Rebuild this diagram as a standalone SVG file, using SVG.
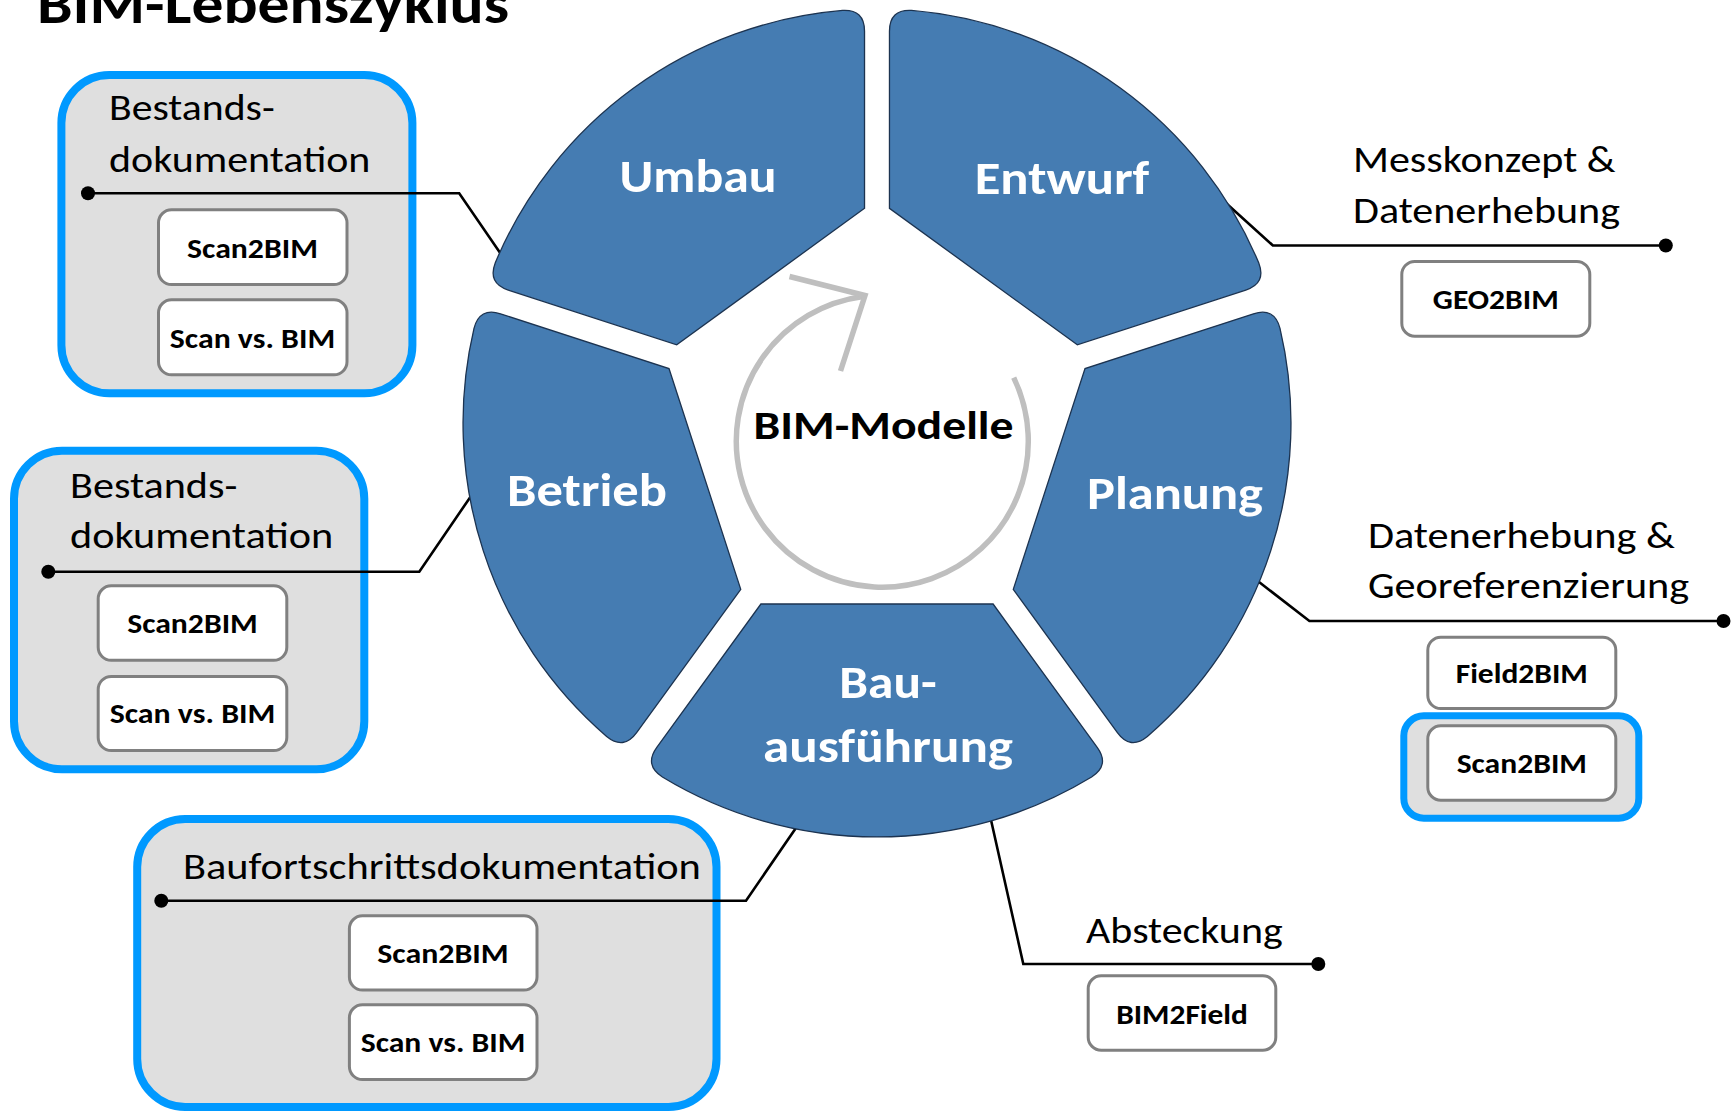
<svg xmlns="http://www.w3.org/2000/svg" width="1734" height="1112" viewBox="0 0 1734 1112">
<defs>
<style>
.t{font-family:Carlito,Calibri,Lato,'Open Sans',sans-serif}
.title{font-weight:bold;font-size:57px;fill:#000}
.lbl{font-size:37px;fill:#000}
.tl{font-weight:bold;font-size:28px;fill:#000;text-anchor:middle}
.sl{font-weight:bold;font-size:47px;fill:#fff;text-anchor:middle}
.core{font-weight:bold;font-size:41px;fill:#000;text-anchor:middle}
.box{fill:#dfdfdf;stroke:#0099ff;stroke-width:8}
.hl{fill:#dfdfdf;stroke:#0099ff;stroke-width:7}
.tool{fill:#fff;stroke:#808080;stroke-width:3}
.seg{fill:#457cb2;stroke:#1c3350;stroke-width:1.3}
.conn{fill:none;stroke:#000;stroke-width:2.6;stroke-linejoin:miter}
.dot{fill:#000}
.cyc{fill:none;stroke:#bfbfbf;stroke-width:5.5}
</style>
<path id="segShape" d="M -116.1,181 L 116.1,181 L 220.2,324.3 Q 233.1,342.1 214.6,354 A 414 414 0 0 1 -214.6,354 Q -233.1,342.1 -220.2,324.3 Z"/>
</defs>
<rect width="1734" height="1112" fill="#fff"/>
<text id="title" class="t title" x="37" y="23" textLength="472" lengthAdjust="spacingAndGlyphs">BIM-Lebenszyklus</text>

<g id="callout-bestand-umbau">
<rect class="box" x="61.4" y="75" width="351" height="318.3" rx="48"/>
<text class="t lbl" x="109" y="120" textLength="165.7" lengthAdjust="spacingAndGlyphs">Bestands-</text>
<text class="t lbl" x="109" y="171.7" textLength="261.4" lengthAdjust="spacingAndGlyphs">dokumentation</text>
<g id="umbau-scan2bim"><rect class="tool" x="158.5" y="209.8" width="188.5" height="74.7" rx="13"/>
<text class="t tl" x="252.5" y="258.3" textLength="130.8" lengthAdjust="spacingAndGlyphs">Scan2BIM</text></g>
<g id="umbau-scanvsbim"><rect class="tool" x="158.5" y="299.8" width="188.5" height="75" rx="13"/>
<text class="t tl" x="252.5" y="347.7" textLength="165.3" lengthAdjust="spacingAndGlyphs">Scan vs. BIM</text></g>
</g>

<g id="callout-bestand-betrieb">
<rect class="box" x="14" y="450.7" width="350.3" height="318.6" rx="48"/>
<text class="t lbl" x="70" y="498.3" textLength="167.3" lengthAdjust="spacingAndGlyphs">Bestands-</text>
<text class="t lbl" x="70" y="548.3" textLength="263.3" lengthAdjust="spacingAndGlyphs">dokumentation</text>
<g id="betrieb-scan2bim"><rect class="tool" x="98.2" y="585.8" width="188.6" height="74.5" rx="13"/>
<text class="t tl" x="192.5" y="633.3" textLength="130.6" lengthAdjust="spacingAndGlyphs">Scan2BIM</text></g>
<g id="betrieb-scanvsbim"><rect class="tool" x="98.2" y="676.5" width="188.6" height="74" rx="13"/>
<text class="t tl" x="192.5" y="723.3" textLength="165.7" lengthAdjust="spacingAndGlyphs">Scan vs. BIM</text></g>
</g>

<g id="callout-baufortschritt">
<rect class="box" x="137.2" y="819" width="579.3" height="288" rx="48"/>
<text class="t lbl" x="182.9" y="879.3" textLength="518" lengthAdjust="spacingAndGlyphs">Baufortschrittsdokumentation</text>
<g id="bau-scan2bim"><rect class="tool" x="349.4" y="915.8" width="187.6" height="74.2" rx="13"/>
<text class="t tl" x="443" y="963.3" textLength="131.4" lengthAdjust="spacingAndGlyphs">Scan2BIM</text></g>
<g id="bau-scanvsbim"><rect class="tool" x="349.4" y="1004.8" width="187.6" height="74.7" rx="13"/>
<text class="t tl" x="443" y="1051.7" textLength="164.6" lengthAdjust="spacingAndGlyphs">Scan vs. BIM</text></g>
</g>

<g id="callout-messkonzept">
<text class="t lbl" x="1353" y="171.7" textLength="262.5" lengthAdjust="spacingAndGlyphs">Messkonzept &amp;</text>
<text class="t lbl" x="1353" y="223.3" textLength="267" lengthAdjust="spacingAndGlyphs">Datenerhebung</text>
<g id="entwurf-geo2bim"><rect class="tool" x="1401.8" y="261.5" width="188" height="74.7" rx="13"/>
<text class="t tl" x="1495.8" y="309.3" textLength="125.9" lengthAdjust="spacingAndGlyphs">GEO2BIM</text></g>
</g>

<g id="callout-georeferenzierung">
<text class="t lbl" x="1367.9" y="548.3" textLength="307" lengthAdjust="spacingAndGlyphs">Datenerhebung &amp;</text>
<text class="t lbl" x="1367.9" y="598.3" textLength="321.3" lengthAdjust="spacingAndGlyphs">Georeferenzierung</text>
<g id="planung-field2bim"><rect class="tool" x="1427.8" y="637.2" width="188" height="71.3" rx="13"/>
<text class="t tl" x="1521.8" y="683.3" textLength="132.2" lengthAdjust="spacingAndGlyphs">Field2BIM</text></g>
<g id="planung-scan2bim"><rect class="hl" x="1403.8" y="715.8" width="235" height="102.4" rx="20"/>
<rect class="tool" x="1427.8" y="725.8" width="188" height="74.4" rx="13"/>
<text class="t tl" x="1521.8" y="773.3" textLength="130.3" lengthAdjust="spacingAndGlyphs">Scan2BIM</text></g>
</g>

<g id="callout-absteckung">
<text class="t lbl" x="1086" y="942.7" textLength="196.7" lengthAdjust="spacingAndGlyphs">Absteckung</text>
<g id="bau-bim2field"><rect class="tool" x="1088.2" y="975.8" width="187.6" height="74.4" rx="13"/>
<text class="t tl" x="1182" y="1024" textLength="131.7" lengthAdjust="spacingAndGlyphs">BIM2Field</text></g>
</g>

<g id="connectors">
<polyline class="conn" points="88,193.3 459.2,193.3 505,260"/>
<circle class="dot" cx="88" cy="193.3" r="7"/>
<polyline class="conn" points="48.3,571.7 419.3,571.7 476.2,488.4"/>
<circle class="dot" cx="48.3" cy="571.7" r="7"/>
<polyline class="conn" points="161.3,900.7 746,900.7 799,823.4"/>
<circle class="dot" cx="161.3" cy="900.7" r="7"/>
<polyline class="conn" points="1224.5,201.7 1272.9,245.5 1665.8,245.5"/>
<circle class="dot" cx="1665.8" cy="245.5" r="7"/>
<polyline class="conn" points="1253.6,577.8 1309.4,621 1723.5,621"/>
<circle class="dot" cx="1723.5" cy="621" r="7"/>
<polyline class="conn" points="990,815.5 1023.3,964 1318.3,964"/>
<circle class="dot" cx="1318.3" cy="964" r="7"/>
</g>

<g id="wheel">
<g id="seg-umbau"><use href="#segShape" class="seg" transform="translate(877,423) rotate(144)"/>
<text class="t sl" x="698" y="191.8" textLength="157" lengthAdjust="spacingAndGlyphs">Umbau</text></g>
<g id="seg-entwurf"><use href="#segShape" class="seg" transform="translate(877,423) rotate(216)"/>
<text class="t sl" x="1062" y="193.7" textLength="174.6" lengthAdjust="spacingAndGlyphs">Entwurf</text></g>
<g id="seg-planung"><use href="#segShape" class="seg" transform="translate(877,423) rotate(-72)"/>
<text class="t sl" x="1175" y="509" textLength="176" lengthAdjust="spacingAndGlyphs">Planung</text></g>
<g id="seg-bauausfuehrung"><use href="#segShape" class="seg" transform="translate(877,423)"/>
<text class="t sl" x="888" y="698.3" textLength="97.4" lengthAdjust="spacingAndGlyphs">Bau-</text>
<text class="t sl" x="888" y="761.7" textLength="250" lengthAdjust="spacingAndGlyphs">ausführung</text></g>
<g id="seg-betrieb"><use href="#segShape" class="seg" transform="translate(877,423) rotate(72)"/>
<text class="t sl" x="587" y="506" textLength="160" lengthAdjust="spacingAndGlyphs">Betrieb</text></g>
<g id="bim-modelle">
<path class="cyc" d="M 1013.7,377.6 A 146 146 0 1 1 863,296.5"/>
<polyline class="cyc" points="789.5,276.5 865,295.5 840.5,371" stroke-linejoin="miter"/>
<text class="t core" x="883.6" y="439" textLength="260" lengthAdjust="spacingAndGlyphs">BIM-Modelle</text>
</g>
</g>
</svg>
